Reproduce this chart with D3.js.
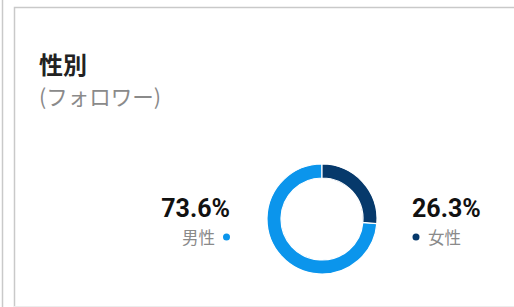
<!DOCTYPE html>
<html>
<head>
<meta charset="utf-8">
<script src="https://cdn.jsdelivr.net/npm/d3@7"></script>
<style>
  html, body { margin: 0; padding: 0; background: #fff; }
  svg { display: block; }
</style>
</head>
<body>
<script>
// chart data
const categories = ["男性", "女性"];
const values = [73.6, 26.3];
const valueLabels = ["73.6%", "26.3%"];
const title = "性別";
const subtitle = "(フォロワー)";

const W = 514, H = 307,
      colors = d3.scaleOrdinal().domain(categories).range(["#0b95ec", "#06396b"]),
      cx = 322, cy = 219, outerR = 55, innerR = 41,
      font = "Roboto, 'Noto Sans CJK JP', sans-serif";

const svg = d3.select("body").append("svg")
    .attr("width", W)
    .attr("height", H)
    .style("font-family", font);

// frame lines
svg.append("line")
    .attr("x1", 2.5).attr("x2", 2.5).attr("y1", 0).attr("y2", H)
    .attr("stroke", "#c9c9c9").attr("stroke-width", 1.5);
svg.append("path")
    .attr("d", `M${W},7.5 H14.5 V${H}`)
    .attr("fill", "none")
    .attr("stroke", "#c9c9c9").attr("stroke-width", 1.5);
svg.append("line")
    .attr("x1", 14).attr("x2", W).attr("y1", 306.5).attr("y2", 306.5)
    .attr("stroke", "#ececec").attr("stroke-width", 1);

// titles
svg.append("text")
    .attr("x", 39).attr("y", 74)
    .attr("font-size", 24).attr("font-weight", "bold")
    .attr("fill", "#222")
    .style("font-family", "'Noto Sans CJK JP', sans-serif")
    .text(title);
svg.append("text")
    .attr("x", 39).attr("y", 105)
    .attr("font-size", 21.5)
    .attr("fill", "#8a8a8a")
    .style("font-family", "'Noto Sans CJK JP', sans-serif")
    .text(subtitle);

// donut
const data = categories.map((c, i) => ({ cat: c, value: values[i], label: valueLabels[i] }));
const pie = d3.pie().value(d => d.value).sort((a, b) => a.value - b.value);
const arc = d3.arc().innerRadius(innerR).outerRadius(outerR);

svg.append("g")
    .attr("transform", `translate(${cx},${cy})`)
    .selectAll("path")
    .data(pie(data))
    .join("path")
    .attr("d", arc)
    .attr("fill", d => colors(d.data.cat))
    .attr("stroke", "#fff")
    .attr("stroke-width", 1.2);

// labels: left for 男性, right for 女性
const labelPos = [
  { x: 230, anchor: "end" },
  { x: 412, anchor: "start" }
];

data.forEach((d, i) => {
  const p = labelPos[i];
  svg.append("text")
      .attr("x", p.x).attr("y", 216.5)
      .attr("text-anchor", p.anchor)
      .attr("font-size", 25).attr("font-weight", "bold")
      .attr("fill", "#111")
      .text(d.label);

  const name = svg.append("text")
      .attr("y", 244)
      .attr("font-size", 16.5)
      .attr("fill", "#8a8a8a")
      .style("font-family", "'Noto Sans CJK JP', sans-serif")
      .text(d.cat);

  if (p.anchor === "end") {
    svg.append("circle")
        .attr("cx", p.x - 3.5).attr("cy", 237).attr("r", 3.5)
        .attr("fill", colors(d.cat));
    name.attr("x", p.x - 15).attr("text-anchor", "end");
  } else {
    svg.append("circle")
        .attr("cx", p.x + 4).attr("cy", 237).attr("r", 3.5)
        .attr("fill", colors(d.cat));
    name.attr("x", p.x + 16).attr("text-anchor", "start");
  }
});
</script>
</body>
</html>
